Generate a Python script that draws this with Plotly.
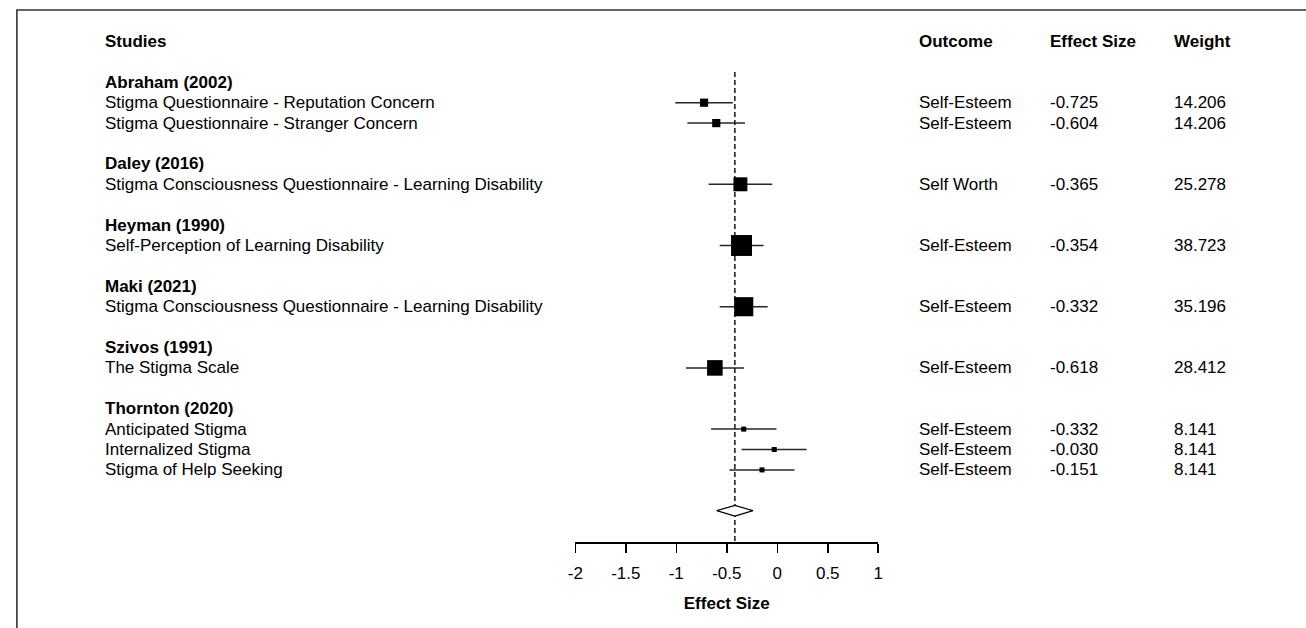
import plotly.graph_objects as go

# ---------------- data ----------------
studies = ["Abraham (2002)", "Daley (2016)", "Heyman (1990)", "Maki (2021)",
           "Szivos (1991)", "Thornton (2020)"]
measures = ["Stigma Questionnaire - Reputation Concern",
            "Stigma Questionnaire - Stranger Concern",
            "Stigma Consciousness Questionnaire - Learning Disability",
            "Self-Perception of Learning Disability",
            "Stigma Consciousness Questionnaire - Learning Disability",
            "The Stigma Scale",
            "Anticipated Stigma",
            "Internalized Stigma",
            "Stigma of Help Seeking"]
measure_study = [0, 0, 1, 2, 3, 4, 5, 5, 5]
outcomes = ["Self-Esteem", "Self-Esteem", "Self Worth", "Self-Esteem", "Self-Esteem",
            "Self-Esteem", "Self-Esteem", "Self-Esteem", "Self-Esteem"]
effect_sizes = [-0.725, -0.604, -0.365, -0.354, -0.332, -0.618, -0.332, -0.030, -0.151]
effect_labels = ["-0.725", "-0.604", "-0.365", "-0.354", "-0.332", "-0.618",
                 "-0.332", "-0.030", "-0.151"]
ci_lower = [-1.01, -0.89, -0.68, -0.57, -0.57, -0.905, -0.655, -0.353, -0.474]
ci_upper = [-0.44, -0.32, -0.05, -0.135, -0.095, -0.33, -0.008, 0.291, 0.17]
weights = [14.206, 14.206, 25.278, 38.723, 35.196, 28.412, 8.141, 8.141, 8.141]
weight_labels = ["14.206", "14.206", "25.278", "38.723", "35.196", "28.412",
                 "8.141", "8.141", "8.141"]
pooled_es = -0.42
pooled_lower = -0.60
pooled_upper = -0.24
x_ticks = [-2, -1.5, -1, -0.5, 0, 0.5, 1]
x_tick_labels = ["-2", "-1.5", "-1", "-0.5", "0", "0.5", "1"]
column_headers = ["Studies", "Outcome", "Effect Size", "Weight"]
x_title = "Effect Size"

# ---------------- layout geometry ----------------
W, H = 1306, 628
ROW_PX = 20.4          # pixel height of one text row
ROW0_PX = 41.5         # pixel centre of header row
AXIS_PX = 542          # pixel position of the x-axis line
X0_PX, X1_PX = 573, 879
COL_PX = [96, 918, 1050, 1176]
FONT = "Liberation Sans, Arial, Helvetica, sans-serif"
FS = 17

# row positions derived from the study structure
header_row = 0
study_rows, measure_rows = [], []
r = 2
for s_idx in range(len(studies)):
    study_rows.append(r)
    r += 1
    for s in measure_study:
        if s == s_idx:
            measure_rows.append(r)
            r += 1
    r += 1
pooled_row = r

y_bottom = (AXIS_PX - ROW0_PX) / ROW_PX
y_top = -ROW0_PX / ROW_PX

fig = go.Figure()

# study estimates with confidence intervals
fig.add_trace(go.Scatter(
    x=effect_sizes, y=measure_rows, mode="markers",
    marker=dict(symbol="square", color="#000000", opacity=1,
                size=[0.52 * w + 0.8 for w in weights], line=dict(width=0)),
    error_x=dict(type="data", symmetric=False,
                 array=[u - e for u, e in zip(ci_upper, effect_sizes)],
                 arrayminus=[e - l for e, l in zip(effect_sizes, ci_lower)],
                 width=0, thickness=1.5, color="#262626"),
    cliponaxis=False, showlegend=False, hoverinfo="skip"))

# pooled diamond
dh = 0.26
fig.add_trace(go.Scatter(
    x=[pooled_lower, pooled_es, pooled_upper, pooled_es, pooled_lower],
    y=[pooled_row, pooled_row - dh, pooled_row, pooled_row + dh, pooled_row],
    mode="lines", fill="toself", fillcolor="white",
    line=dict(color="black", width=1.2),
    cliponaxis=False, showlegend=False, hoverinfo="skip"))

shapes = [
    # reference (pooled) dashed line
    dict(type="line", xref="x", yref="y", x0=pooled_es, x1=pooled_es,
         y0=study_rows[0] - 0.5, y1=y_bottom,
         line=dict(color="#222", width=1.6, dash="5px,3px"), layer="below"),
    # outer frame
    dict(type="rect", xref="paper", yref="paper", x0=9 / W, x1=1.05,
         y0=-0.05, y1=1 - 10 / H, line=dict(color="#333", width=1.6)),
]

annotations = []

def add_text(px, row, text, bold=False):
    annotations.append(dict(
        x=px / W, xref="paper", y=row, yref="y", text=text, showarrow=False,
        xanchor="left", yanchor="middle",
        font=dict(family=FONT, size=FS, color="black",
                  weight="bold" if bold else "normal")))

for px, t in zip(COL_PX, column_headers):
    add_text(px, header_row, t, bold=True)
for s, row in zip(studies, study_rows):
    add_text(COL_PX[0], row, s, bold=True)
for i, row in enumerate(measure_rows):
    add_text(COL_PX[0], row, measures[i])
    add_text(COL_PX[1], row, outcomes[i])
    add_text(COL_PX[2], row, effect_labels[i])
    add_text(COL_PX[3], row, weight_labels[i])

fig.update_layout(
    width=W, height=H,
    margin=dict(l=0, r=0, t=0, b=0),
    paper_bgcolor="white", plot_bgcolor="white",
    font=dict(family=FONT, size=FS, color="black"),
    shapes=shapes, annotations=annotations,
    xaxis=dict(domain=[X0_PX / W, X1_PX / W], range=[-2, 1],
               showgrid=False, zeroline=False, showline=True,
               linecolor="black", linewidth=1.5,
               ticks="outside", ticklen=9, tickwidth=1.5, tickcolor="black",
               tickvals=x_ticks, ticktext=x_tick_labels,
               tickfont=dict(family=FONT, size=FS, color="black"),
               ticklabelstandoff=6,
               title=dict(text=x_title, standoff=15,
                          font=dict(family=FONT, size=FS, color="black",
                                    weight="bold")),
               fixedrange=True),
    yaxis=dict(domain=[1 - AXIS_PX / H, 1], range=[y_bottom, y_top],
               visible=False, fixedrange=True),
)

fig.write_html("out.html",
               config={"displayModeBar": False, "staticPlot": True},
               post_script="document.body.style.margin='0';"
                           "document.body.style.overflow='hidden';")
